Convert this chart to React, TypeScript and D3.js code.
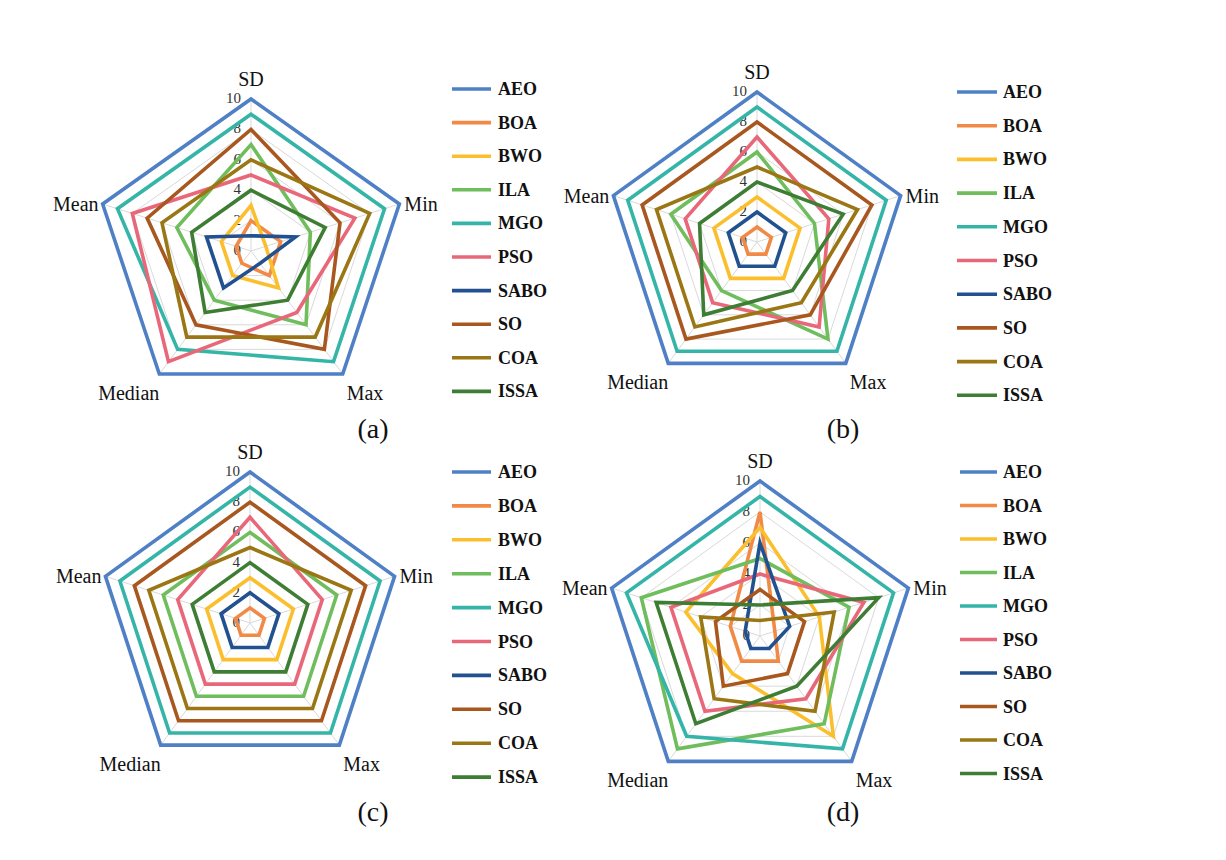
import React from "react";
import * as d3 from "d3";

// ---- Data ----
const AXES = ["SD", "Min", "Max", "Median", "Mean"];
const SERIES = ["AEO", "BOA", "BWO", "ILA", "MGO", "PSO", "SABO", "SO", "COA", "ISSA"];
const TICKS = [0, 2, 4, 6, 8, 10];
const PANEL_LABELS = ["(a)", "(b)", "(c)", "(d)"];

// values per series, order: SD, Min, Max, Median, Mean
const valuesA = [
  [10, 10, 10, 10, 10], // AEO
  [2, 2, 2, 1, 1], // BOA
  [3, 1, 3, 2, 2], // BWO
  [7, 4, 6, 4, 5], // ILA
  [9, 9, 9, 8, 9], // MGO
  [5, 7, 5, 9, 8], // PSO
  [1, 3, 1, 3, 3], // SABO
  [8, 6, 8, 6, 7], // SO
  [6, 8, 7, 7, 6], // COA
  [4, 5, 4, 5, 4], // ISSA
];
const valuesB = [
  [10, 10, 10, 10, 10],
  [1, 1, 1, 1, 1],
  [3, 3, 3, 3, 3],
  [6, 4, 8, 4, 6],
  [9, 9, 9, 9, 9],
  [7, 5, 7, 5, 5],
  [2, 2, 2, 2, 2],
  [8, 8, 6, 8, 8],
  [5, 7, 5, 7, 7],
  [4, 6, 4, 6, 4],
];
const valuesC = [
  [10, 10, 10, 10, 10],
  [1, 1, 1, 1, 1],
  [3, 3, 3, 3, 3],
  [6, 6, 6, 6, 6],
  [9, 9, 9, 9, 9],
  [7, 5, 5, 5, 5],
  [2, 2, 2, 2, 2],
  [8, 8, 8, 8, 8],
  [5, 7, 7, 7, 7],
  [4, 4, 4, 4, 4],
];
const valuesD = [
  [10, 10, 10, 10, 10],
  [8, 1, 2, 2, 2],
  [7, 4, 8, 3, 5],
  [5, 6, 7, 9, 8],
  [9, 9, 9, 8, 9],
  [4, 7, 5, 6, 6],
  [6, 2, 1, 1, 1],
  [3, 3, 3, 4, 3],
  [1, 5, 6, 5, 4],
  [2, 8, 4, 7, 7],
];

// ---- Styles / layout ----
const COLORS = [
  "#4F80C6", "#F08A46", "#FBBF2E", "#6FBD5C", "#35B5A8",
  "#E8687A", "#22518F", "#A8571F", "#9A7614", "#3E7D34",
];
const FONT = "'Liberation Serif', 'Times New Roman', serif";

const PANELS = [
  { data: valuesA, cx: 251, cy: 251, rx: 156, ry: 152, leg: { x1: 452, x2: 491, tx: 498, y0: 89, dy: 33.6 }, lab: [373, 428] },
  { data: valuesB, cx: 757, cy: 242, rx: 151, ry: 150, leg: { x1: 957, x2: 997, tx: 1003, y0: 92, dy: 33.7 }, lab: [843, 428] },
  { data: valuesC, cx: 250, cy: 623, rx: 152, ry: 151, leg: { x1: 452, x2: 491, tx: 498, y0: 472, dy: 33.9 }, lab: [373, 811] },
  { data: valuesD, cx: 760, cy: 636, rx: 156, ry: 155, leg: { x1: 960, x2: 997, tx: 1003, y0: 472, dy: 33.5 }, lab: [843, 811] },
];

function Radar({ p, idx }: { p: any; idx: number }) {
  const r = d3.scaleLinear().domain([0, 10]).range([0, 1]);
  const angle = d3.scalePoint<string>().domain(AXES).range([0, (2 * Math.PI * 4) / 5]);
  const pt = (axis: string, v: number): [number, number] => {
    const a = angle(axis) as number;
    return [p.cx + r(v) * p.rx * Math.sin(a), p.cy - r(v) * p.ry * Math.cos(a)];
  };
  const line = d3.line<[number, number]>().curve(d3.curveLinearClosed);
  const vtx = (axis: string) => pt(axis, 10);

  const labelPos: Record<string, { x: number; y: number; anchor: string }> = {
    SD: { x: vtx("SD")[0], y: vtx("SD")[1] - 20, anchor: "middle" },
    Min: { x: vtx("Min")[0] + 5, y: vtx("Min")[1], anchor: "start" },
    Max: { x: vtx("Max")[0] + 4, y: vtx("Max")[1] + 19, anchor: "start" },
    Median: { x: vtx("Median")[0], y: vtx("Median")[1] + 19, anchor: "end" },
    Mean: { x: vtx("Mean")[0] - 4, y: vtx("Mean")[1], anchor: "end" },
  };

  return (
    <g>
      {/* grid */}
      {TICKS.filter((t) => t > 0).map((t) => (
        <path key={"g" + t} d={line(AXES.map((a) => pt(a, t))) || ""} fill="none" stroke="#D9D9D9" strokeWidth={1} />
      ))}
      {AXES.map((a) => {
        const [x, y] = vtx(a);
        return <line key={"s" + a} x1={p.cx} y1={p.cy} x2={x} y2={y} stroke="#D9D9D9" strokeWidth={1} />;
      })}
      {/* tick labels */}
      {TICKS.map((t) => (
        <text key={"t" + t} x={p.cx - 10} y={pt("SD", t)[1] - 1} textAnchor="end" dominantBaseline="central"
          fontFamily={FONT} fontSize={15} fill="#333">{t}</text>
      ))}
      {/* series */}
      {SERIES.map((s, i) => (
        <path key={s} d={line(AXES.map((a, j) => pt(a, p.data[i][j]))) || ""} fill="none"
          stroke={COLORS[i]} strokeWidth={3.6} strokeLinejoin="miter" />
      ))}
      {/* axis labels */}
      {AXES.map((a) => (
        <text key={"l" + a} x={labelPos[a].x} y={labelPos[a].y} textAnchor={labelPos[a].anchor as any}
          dominantBaseline="central" fontFamily={FONT} fontSize={20} fill="#111">{a}</text>
      ))}
      {/* legend */}
      {SERIES.map((s, i) => {
        const y = p.leg.y0 + i * p.leg.dy;
        return (
          <g key={"leg" + s}>
            <line x1={p.leg.x1} x2={p.leg.x2} y1={y} y2={y} stroke={COLORS[i]} strokeWidth={3.6} />
            <text x={p.leg.tx} y={y} dominantBaseline="central" fontFamily={FONT} fontSize={18}
              fontWeight="bold" fill="#111">{s}</text>
          </g>
        );
      })}
      <text x={p.lab[0]} y={p.lab[1]} textAnchor="middle" dominantBaseline="central" fontFamily={FONT}
        fontSize={28} fill="#111">{PANEL_LABELS[idx]}</text>
    </g>
  );
}

export default function App() {
  return (
    <div style={{ position: "absolute", left: 0, top: 0 }}>
      <svg width={1226} height={860} style={{ display: "block", background: "#fff" }}>
        {PANELS.map((p, i) => (
          <Radar key={i} p={p} idx={i} />
        ))}
      </svg>
    </div>
  );
}
